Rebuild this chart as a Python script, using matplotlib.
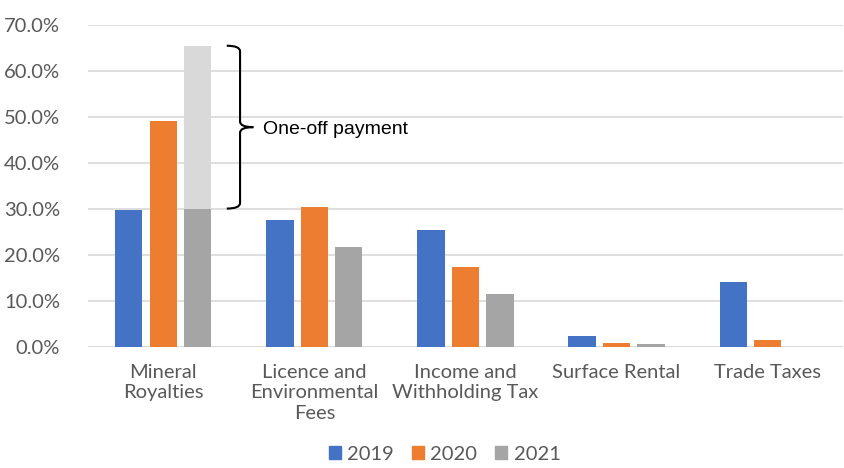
import matplotlib
matplotlib.use("Agg")
import matplotlib.pyplot as plt
import numpy as np
from matplotlib.path import Path
from matplotlib.patches import PathPatch, Patch

categories = ["Mineral\nRoyalties", "Licence and\nEnvironmental\nFees",
              "Income and\nWithholding Tax", "Surface Rental", "Trade Taxes"]
years = ["2019", "2020", "2021"]
v2019 = [29.7, 27.6, 25.4, 2.3, 14.2]
v2020 = [49.1, 30.4, 17.5, 0.95, 1.6]
v2021 = [30.1, 21.7, 11.5, 0.7, 0.0]
oneoff_2021 = [35.4, 0, 0, 0, 0]   # extra one-off payment stacked on 2021
yticks = [0, 10, 20, 30, 40, 50, 60, 70]
annotation_text = "One-off payment"

colors = ["#4472C4", "#ED7D31", "#A5A5A5"]
light = "#D9D9D9"
txtc = "#595959"
font = "Lato"

fig = plt.figure(figsize=(8.44, 4.68), dpi=100)
ax = fig.add_axes([0.104, 0.2585, 0.895, 0.688])

x = np.arange(len(categories))
w = 0.18
off = 0.228
series = [v2019, v2020, v2021]
for i, (vals, c) in enumerate(zip(series, colors)):
    ax.bar(x + (i - 1) * off, np.array(vals) / 100, width=w, color=c, zorder=3)
ax.bar(x + off, np.array(oneoff_2021) / 100, bottom=np.array(v2021) / 100,
       width=w, color=light, zorder=3)

ax.set_xlim(-0.5, len(categories) - 0.5)
ax.set_ylim(0, 0.70)
ax.set_yticks([t / 100 for t in yticks])
ax.set_yticklabels([f"{t:.1f}%" for t in yticks], fontsize=14.5, color=txtc, family=font)
ax.set_xticks(x)
ax.set_xticklabels(categories, fontsize=14.5, color=txtc, family=font, linespacing=1.25)
ax.tick_params(axis="both", length=0)
ax.tick_params(axis="y", pad=20)
ax.tick_params(axis="x", pad=12)
ax.grid(axis="y", color="#D9D9D9", linewidth=1.2, zorder=0)
for s in ax.spines.values():
    s.set_visible(False)
ax.axhline(0, color="#D9D9D9", linewidth=1.2, zorder=2)

# brace around one-off payment
bot = v2021[0] / 100
top = (v2021[0] + oneoff_2021[0]) / 100
mid = (top + bot) / 2
xl, xv, xt = 0.42, 0.508, 0.596
ry = 0.012
verts = [(xl, top), (xv, top), (xv, top - ry), (xv, mid + ry), (xv, mid), (xt, mid),
         (xv, mid), (xv, mid - ry), (xv, bot + ry), (xv, bot), (xl, bot)]
codes = [Path.MOVETO, Path.CURVE3, Path.CURVE3, Path.LINETO, Path.CURVE3, Path.CURVE3,
         Path.CURVE3, Path.CURVE3, Path.LINETO, Path.CURVE3, Path.CURVE3]
ax.add_patch(PathPatch(Path(verts, codes), fill=False, lw=1.5, color="black",
                       zorder=4, clip_on=False))
ax.text(0.66, mid - 0.006, annotation_text, fontsize=14, family="Liberation Sans",
        va="center", ha="left", color="black")

handles = [Patch(color=c, label=y) for c, y in zip(colors, years)]
fig.legend(handles=handles, loc="lower center", bbox_to_anchor=(0.527, -0.028), ncol=3,
           frameon=False, handlelength=0.6, handleheight=0.6, handletextpad=0.3,
           columnspacing=0.9, prop={"family": font, "size": 14.5}, labelcolor=txtc)

fig.savefig("out.png", dpi=100)
